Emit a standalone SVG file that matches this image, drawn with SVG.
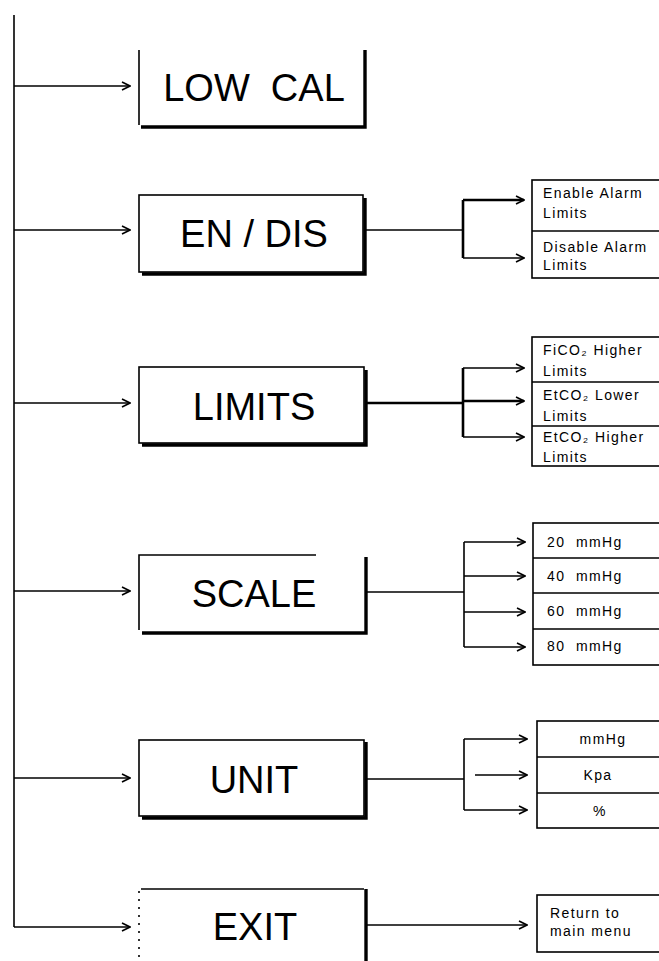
<svg xmlns="http://www.w3.org/2000/svg" width="659" height="961" viewBox="0 0 659 961">
<defs>
<style>
.ln{stroke:#000;stroke-width:1.6;fill:none}
.tk{stroke:#000;stroke-width:2.6;fill:none}
.sh{stroke:#000;stroke-width:3.4;fill:none}
.box{fill:#fff;stroke:#000;stroke-width:1.6}
.big{font-family:"Liberation Sans",Arial,sans-serif;font-size:38px;text-anchor:middle;fill:#000}
.sm{font-family:"Liberation Sans",Arial,sans-serif;font-size:14px;letter-spacing:1.4px;fill:#000}
.smc{font-family:"Liberation Sans",Arial,sans-serif;font-size:14px;letter-spacing:1.4px;fill:#000;text-anchor:middle}
</style>
<marker id="ah" viewBox="0 0 10 10" refX="9" refY="5" markerWidth="10" markerHeight="10" markerUnits="userSpaceOnUse" orient="auto">
<path d="M1,1 L9,5 L1,9" fill="none" stroke="#000" stroke-width="1.6"/>
</marker>
</defs>
<rect width="659" height="961" fill="#fff"/>

<g id="connectors">
<path class="ln" d="M14,15 V927"/>
<path class="ln" d="M14,86 H130" marker-end="url(#ah)"/>
<path class="ln" d="M14,230 H130" marker-end="url(#ah)"/>
<path class="ln" d="M14,403 H130" marker-end="url(#ah)"/>
<path class="ln" d="M14,591 H130" marker-end="url(#ah)"/>
<path class="ln" d="M14,778 H130" marker-end="url(#ah)"/>
<path class="ln" d="M14,927 H130" marker-end="url(#ah)"/>

<path class="ln" d="M366,230 H463"/>
<path class="tk" d="M463,200 V258"/>
<path class="tk" d="M463,200 H524" marker-end="url(#ah)"/>
<path class="ln" d="M463,258 H524" marker-end="url(#ah)"/>

<path class="tk" d="M366,403 H463"/>
<path class="tk" d="M463,368 V437"/>
<path class="ln" d="M463,368 H524" marker-end="url(#ah)"/>
<path class="tk" d="M463,401 H524" marker-end="url(#ah)"/>
<path class="ln" d="M463,437 H524" marker-end="url(#ah)"/>

<path class="ln" d="M366,592 H464"/>
<path class="ln" d="M464,542 V647"/>
<path class="ln" d="M464,542 H525" marker-end="url(#ah)"/>
<path class="ln" d="M464,576 H525" marker-end="url(#ah)"/>
<path class="ln" d="M464,612 H525" marker-end="url(#ah)"/>
<path class="ln" d="M464,647 H525" marker-end="url(#ah)"/>

<path class="ln" d="M366,779 H464"/>
<path class="ln" d="M464,739 V810"/>
<path class="ln" d="M464,739 H527" marker-end="url(#ah)"/>
<path class="ln" d="M475,775 H527" marker-end="url(#ah)"/>
<path class="ln" d="M464,810 H527" marker-end="url(#ah)"/>

<path class="ln" d="M366,925 H527" marker-end="url(#ah)"/>
</g>

<g id="lowcal">
<path class="ln" d="M139,50 V125"/>
<path class="sh" d="M365,50 V127 H141"/>
<text class="big" x="254" y="101" xml:space="preserve">LOW  CAL</text>
</g>

<g id="endis">
<rect class="box" x="139" y="195" width="224" height="77"/>
<path class="sh" d="M365,198 V274 H142"/>
<text class="big" x="254" y="247">EN / DIS</text>
</g>

<g id="limits">
<rect class="box" x="139" y="367" width="225" height="76"/>
<path class="sh" d="M366,370 V445 H142"/>
<text class="big" x="254" y="420">LIMITS</text>
</g>

<g id="scale">
<path class="ln" d="M139,630 V555 H316"/>
<path class="sh" d="M366,557 V633 H142"/>
<text class="big" x="254" y="607">SCALE</text>
</g>

<g id="unit">
<rect class="box" x="139" y="740" width="225" height="76"/>
<path class="sh" d="M366,742 V818 H142"/>
<text class="big" x="254" y="793">UNIT</text>
</g>

<g id="exit">
<path class="ln" d="M139,891 V965" stroke-dasharray="2,6"/>
<path class="ln" d="M141,889 H364"/>
<path class="sh" d="M366,889 V965"/>
<text class="big" x="255" y="940">EXIT</text>
</g>

<g id="endis-sub">
<rect class="box" x="532" y="180" width="140" height="98"/>
<path class="ln" d="M532,231 H672"/>
<text class="sm" x="543" y="198">Enable Alarm</text>
<text class="sm" x="543" y="218">Limits</text>
<text class="sm" x="543" y="252">Disable Alarm</text>
<text class="sm" x="543" y="270">Limits</text>
</g>

<g id="limits-sub">
<rect class="box" x="532" y="337" width="140" height="129"/>
<path class="ln" d="M532,382 H672 M532,426 H672"/>
<text class="sm" x="543" y="355">FiCO₂ Higher</text>
<text class="sm" x="543" y="376">Limits</text>
<text class="sm" x="543" y="400">EtCO₂ Lower</text>
<text class="sm" x="543" y="421">Limits</text>
<text class="sm" x="543" y="442">EtCO₂ Higher</text>
<text class="sm" x="543" y="462">Limits</text>
</g>

<g id="scale-sub">
<rect class="box" x="533" y="523" width="140" height="142"/>
<path class="ln" d="M533,558 H673 M533,593 H673 M533,629 H673"/>
<text class="sm" x="547" y="547" xml:space="preserve">20  mmHg</text>
<text class="sm" x="547" y="581" xml:space="preserve">40  mmHg</text>
<text class="sm" x="547" y="616" xml:space="preserve">60  mmHg</text>
<text class="sm" x="547" y="651" xml:space="preserve">80  mmHg</text>
</g>

<g id="unit-sub">
<rect class="box" x="537" y="721" width="140" height="107"/>
<path class="ln" d="M537,757 H677 M537,793 H677"/>
<text class="smc" x="603" y="744">mmHg</text>
<text class="smc" x="598" y="780">Kpa</text>
<text class="smc" x="600" y="816">%</text>
</g>

<g id="exit-sub">
<rect class="box" x="537" y="895" width="140" height="57"/>
<text class="sm" x="550" y="918">Return to</text>
<text class="sm" x="550" y="936">main menu</text>
</g>
</svg>
